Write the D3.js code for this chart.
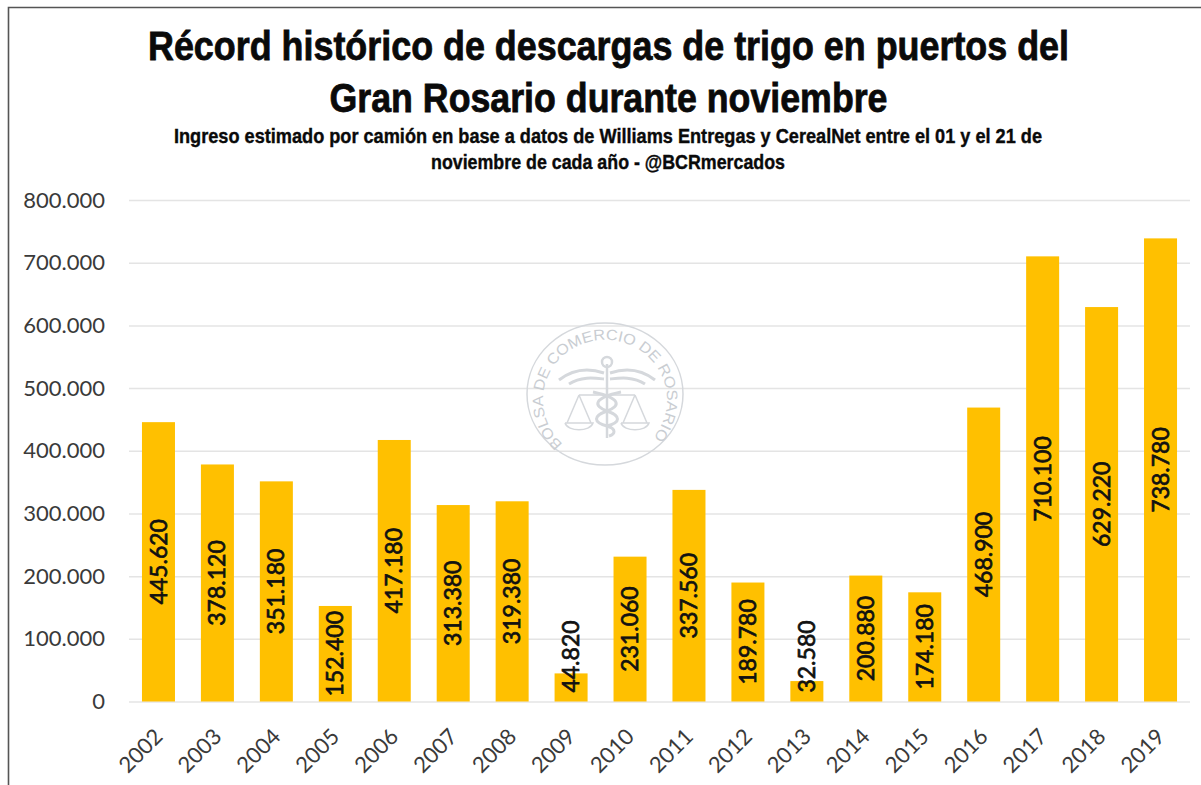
<!DOCTYPE html>
<html>
<head>
<meta charset="utf-8">
<script src="https://cdn.jsdelivr.net/npm/d3@7"></script>
<style>
  html, body { margin: 0; padding: 0; background: #fff; }
  .grid line { stroke: #e4e4e4; stroke-width: 1.5; }
  .grid path { display: none; }
  .axis text { font-family: Lato, "Open Sans", sans-serif; fill: #3a3a3a; }
  .axis path, .axis line { display: none; }
  .title { font-family: "Liberation Sans", sans-serif; font-weight: bold; fill: #0a0a0a; stroke: #0a0a0a; }
  .label { font-family: Lato, "Open Sans", sans-serif; fill: #111; stroke: #111; stroke-width: .7; font-size: 23px; }
  .seal { fill: none; stroke: #d5d8dc; }
  .sealtext { font-family: "Liberation Sans", sans-serif; font-size: 15px; fill: #c9cdd2; }
</style>
</head>
<body>
<svg id="chart"></svg>
<script>
// 表示サイズ
var size = { width: 1201, height: 785 };
var margin = { top: 200, right: 11, bottom: 83.5, left: 129 };

// 表示するデータ
var years = ["2002","2003","2004","2005","2006","2007","2008","2009","2010","2011","2012","2013","2014","2015","2016","2017","2018","2019"];
var values = [445620,378120,351180,152400,417180,313380,319380,44820,231060,337560,189780,32580,200880,174180,468900,710100,629220,738780];
var yTicks = [0,100000,200000,300000,400000,500000,600000,700000,800000];
var titleLines = ["Récord histórico de descargas de trigo en puertos del", "Gran Rosario durante noviembre"];
var titleWidths = [921, 558];
var subtitleLines = ["Ingreso estimado por camión en base a datos de Williams Entregas y CerealNet entre el 01 y el 21 de", "noviembre de cada año - @BCRmercados"];
var subtitleWidths = [868, 354];

var fmt = d3.formatLocale({ decimal: ",", thousands: ".", grouping: [3], currency: ["$", ""] }).format(",d");

var svg = d3.select("#chart")
  .attr("width", size.width)
  .attr("height", size.height)
  .style("display", "block");

var w = size.width - margin.left - margin.right;
var h = size.height - margin.top - margin.bottom;

var x = d3.scaleBand().domain(years).range([0, w]).paddingInner(0.44).paddingOuter(0.22);
var y = d3.scaleLinear().domain([0, 800000]).range([h, 0]);

// 枠線 (上と左だけ)
svg.append("path")
  .attr("d", "M8.5,785V7.5H1201")
  .attr("fill", "none")
  .attr("stroke", "#555")
  .attr("stroke-width", 1.6);

// タイトル (細い字体がないので横幅を詰める)
svg.selectAll(".main").data(titleLines).enter().append("text")
  .attr("class", "title main")
  .attr("x", 608.5)
  .attr("y", function(d, i){ return 60 + i * 52; })
  .attr("text-anchor", "middle")
  .attr("font-size", 41)
  .attr("stroke-width", 0.8)
  .attr("textLength", function(d, i){ return titleWidths[i]; })
  .attr("lengthAdjust", "spacingAndGlyphs")
  .text(function(d){ return d; });

svg.selectAll(".sub").data(subtitleLines).enter().append("text")
  .attr("class", "title sub")
  .attr("x", 608)
  .attr("y", function(d, i){ return 143 + i * 26; })
  .attr("text-anchor", "middle")
  .attr("font-size", 21)
  .attr("stroke-width", 0.4)
  .attr("textLength", function(d, i){ return subtitleWidths[i]; })
  .attr("lengthAdjust", "spacingAndGlyphs")
  .text(function(d){ return d; });

var g = svg.append("g")
  .attr("transform", "translate(" + margin.left + "," + margin.top + ")");

// 目盛り線
g.append("g")
  .attr("class", "grid")
  .call(d3.axisLeft(y).tickValues(yTicks).tickSize(-w).tickFormat(""));

// ロゴ (透かし)
var seal = g.append("g").attr("transform", "translate(" + (605 - margin.left) + "," + (394 - margin.top) + ")");
seal.append("ellipse").attr("class", "seal").attr("rx", 78).attr("ry", 71).attr("stroke-width", 1.5);
seal.append("path").attr("id", "sealArc").attr("fill", "none")
  .attr("d", "M-42,50A62,60 0 1 1 42,50");
seal.append("text").attr("class", "sealtext").append("textPath")
  .attr("href", "#sealArc")
  .attr("textLength", 282)
  .attr("lengthAdjust", "spacingAndGlyphs")
  .text("BOLSA DE COMERCIO DE ROSARIO");
// 杖と翼と天秤
var emblem = seal.append("g").attr("transform", "translate(2,0)");
emblem.append("path").attr("class", "seal").attr("stroke-width", 2.5)
  .attr("d", "M0,-30V44");
emblem.append("circle").attr("class", "seal").attr("cy", -32).attr("r", 5).attr("stroke-width", 2.5);
emblem.append("path").attr("class", "seal").attr("stroke-width", 3)
  .attr("d", "M-48,-14C-30,-28 -12,-24 -3,-21M-38,-10C-26,-18 -12,-16 -3,-15M48,-14C30,-28 12,-24 3,-21M38,-10C26,-18 12,-16 3,-15");
emblem.append("path").attr("class", "seal").attr("stroke-width", 3)
  .attr("d", "M-14,-2C14,4 14,12 0,17C-14,22 -14,28 0,32C10,35 8,40 2,42M14,-2C-14,4 -14,12 0,17C14,22 14,28 0,32");
emblem.append("path").attr("class", "seal").attr("stroke-width", 1.5)
  .attr("d", "M-28,1H28M-28,1L-40,29M-28,1L-16,29M-42,29H-14C-17,38 -39,38 -42,29M28,1L16,29M28,1L40,29M14,29H42C39,38 17,38 14,29");

// 棒
g.selectAll(".bar").data(values).enter().append("rect")
  .attr("class", "bar")
  .attr("x", function(d, i){ return x(years[i]); })
  .attr("y", function(d){ return y(d); })
  .attr("width", x.bandwidth())
  .attr("height", function(d){ return h - y(d); })
  .attr("fill", "#ffc000");

// データラベル
g.selectAll(".label").data(values).enter().append("text")
  .attr("class", "label")
  .attr("transform", function(d, i){
    // 棒が短いときはラベルを上にずらす
    var cy = Math.min((y(d) + h) / 2, h - 45);
    return "translate(" + (x(years[i]) + x.bandwidth() / 2) + "," + cy + ") rotate(-90)";
  })
  .attr("text-anchor", "middle")
  .attr("dy", ".35em")
  .text(function(d){ return fmt(d); });

// 軸
var yAxis = g.append("g").attr("class", "axis")
  .call(d3.axisLeft(y).tickValues(yTicks).tickFormat(function(d){ return fmt(d); }).tickSize(0).tickPadding(24));
yAxis.selectAll("text").style("font-size", "22px");

var xAxis = g.append("g").attr("class", "axis")
  .attr("transform", "translate(0," + h + ")")
  .call(d3.axisBottom(x).tickSize(0));
xAxis.selectAll("text")
  .style("font-size", "22px")
  .attr("text-anchor", "end")
  .attr("dy", ".35em")
  .attr("transform", "translate(-2,29) rotate(-45)");
</script>
</body>
</html>
